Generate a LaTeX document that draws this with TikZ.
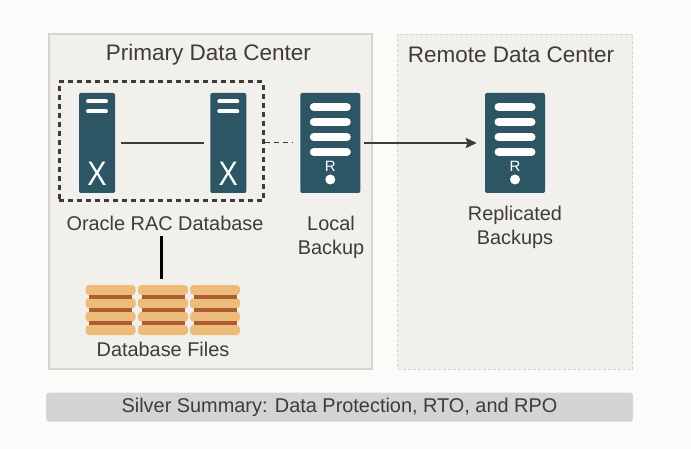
\documentclass[tikz,border=0pt]{standalone}
\usepackage{fontspec}
\setmainfont{Liberation Sans}
\usepackage{tikz}
\usetikzlibrary{positioning,arrows.meta,calc}
\definecolor{pagebg}{HTML}{FCFBFA}
\definecolor{zonebg}{HTML}{F1F0EC}
\definecolor{zoneln}{HTML}{D6D4CC}
\definecolor{srvblue}{HTML}{2D5665}
\definecolor{inkdark}{HTML}{3F3C38}
\definecolor{filelt}{HTML}{EEBC7A}
\definecolor{filedk}{HTML}{AE5C32}
\definecolor{barbg}{HTML}{D3D4D6}

\begin{document}
\begin{tikzpicture}[
x=1pt,y=-1pt,
zone/.style={
  draw=zoneln,
  fill=zonebg,
  minimum width=#1,
  minimum height=335,
  inner sep=0pt
},
title/.style={
  text=inkdark,
  font=\fontsize{22.5}{26}\selectfont
},
caption/.style={
  text=inkdark,
  align=center,
  font=\fontsize{19.9}{24}\selectfont
},
racsrv/.style={
  fill=srvblue,
  rounded corners=2pt,
  minimum width=36,
  minimum height=100,
  inner sep=0pt
},
baksrv/.style={
  fill=srvblue,
  rounded corners=2pt,
  minimum width=60,
  minimum height=100,
  inner sep=0pt
}
]
\useasboundingbox[fill=pagebg] (0,0) rectangle (691,449);

\node[zone=323,line width=1.2pt] (primary) at (210.5,201.5) {};
\node[zone=235,densely dashed,line width=.8pt] (remote) at (515,201.5) {};
\node[title] (primarylbl) at (208.5,55) {Primary Data Center};
\node[title] (remotelbl) at (511,55) {Remote Data Center};

\node[draw=inkdark,line width=2.6pt,dash pattern=on 5pt off 4pt,minimum width=204,minimum height=119,inner sep=0pt] (ring) at (161.3,141.2) {};
\node[racsrv] (rac1) at (97,143) {};
\node[racsrv] (rac2) at (228.3,143) {};
\node[baksrv] (bak) at (330.3,143) {};
\node[baksrv] (rep) at (515,143) {};

% thin bars and the X of the rac servers
\foreach \srv in {rac1,rac2} {
  \foreach \yy in {-41.5,-31.5}
    \draw[white!90!zonebg,line width=4pt,line cap=round] ($(\srv)+(-9,\yy)$) -- ($(\srv)+(9,\yy)$);
  \node[text=white,font=\fontsize{34}{34}\selectfont,xscale=.85] (\srv x) at ($(\srv)+(0,30.5)$) {X};
}

% wide bars, letter and dot of the backup servers
\foreach \srv in {bak,rep} {
  \foreach \yy in {-36,-21,-6,9}
    \draw[white,line width=8pt,line cap=round] ($(\srv)+(-16.5,\yy)$) -- ($(\srv)+(16.5,\yy)$);
  \node[text=white,font=\fontsize{15}{15}\selectfont] (\srv r) at ($(\srv)+(0,23)$) {R};
  \node[fill=white,circle,minimum size=10,inner sep=0pt] (\srv dot) at ($(\srv)+(0,36.5)$) {};
}

\node[caption] (racdb) at (165,223) {Oracle RAC Database};
\node[caption] (baklbl) at (331,237) {Local\\Backup};
\node[caption] (replbl) at (515,227) {Replicated\\Backups};

\node[minimum width=154.3,minimum height=50,inner sep=0pt] (files) at (163,310) {};
\foreach \xx in {-52.5,0,52} {
  \foreach \yy in {-20,-6.7,6.7,20}
    \fill[filelt,rounded corners=3.5pt] ($(files)+(\xx-25,\yy-5)$) rectangle ($(files)+(\xx+25,\yy+5)$);
  \foreach \yy in {-13.35,0,13.35}
    \fill[filedk] ($(files)+(\xx-21.5,\yy-2)$) rectangle ($(files)+(\xx+21.5,\yy+2)$);
}
\node[caption] (fileslbl) at (163,349) {Database Files};

\node[fill=barbg,rounded corners=3pt,minimum width=587,minimum height=29,inner sep=0pt,text=inkdark,font=\fontsize{19.9}{22}\selectfont] (summary) at (339.5,407) {Silver Summary: Data Protection, RTO, and RPO};

\draw[inkdark,line width=2.8pt,shorten <=6pt,shorten >=6.5pt] (rac1) -- (rac2);
\draw[inkdark,line width=1pt,dash pattern=on 5pt off 4pt,shorten >=7pt] (ring.east |- bak) -- (bak.west);
\draw[-{Stealth[length=11pt,width=10pt,inset=1.5pt]},inkdark,line width=2.4pt,shorten <=3pt,shorten >=8pt] (bak.east) -- (rep.west);
\draw[black,line width=3pt,shorten <=6pt,shorten >=2pt] ([xshift=-1.7pt]files.north) -- ([xshift=-1.7pt]files.north |- racdb.south);
\end{tikzpicture}
\end{document}
